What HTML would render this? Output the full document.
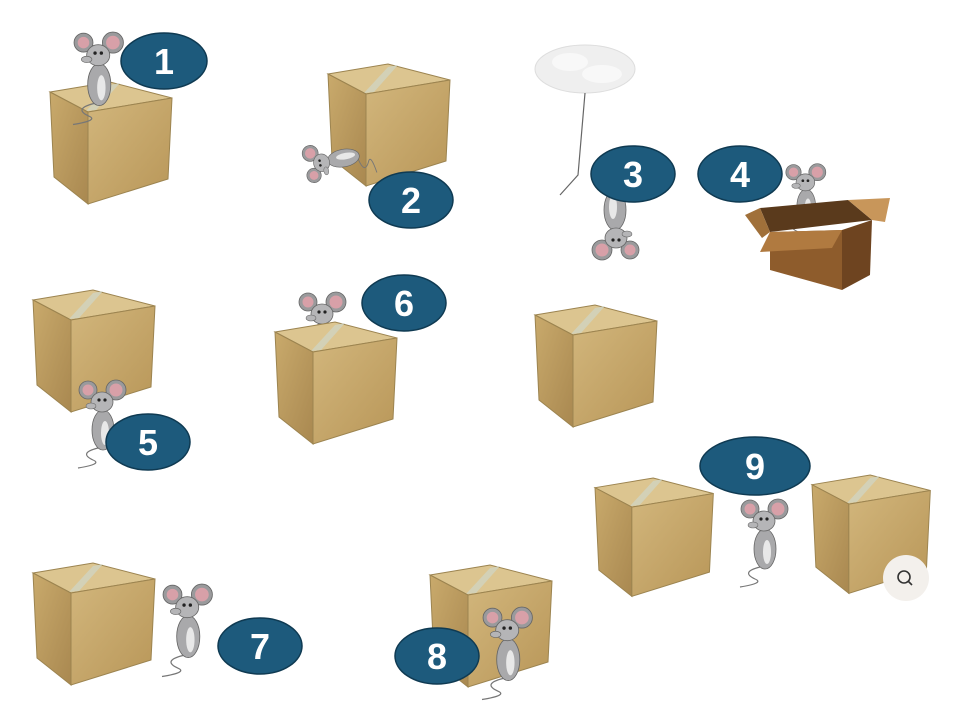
<!DOCTYPE html>
<html><head><meta charset="utf-8"><style>
html,body{margin:0;padding:0;background:#fff;width:960px;height:720px;overflow:hidden}
svg{display:block}
text{font-family:"Liberation Sans",sans-serif;font-weight:bold;fill:#fff}
</style></head><body>
<svg width="960" height="720" viewBox="0 0 960 720">
<defs>
<linearGradient id="rf" x1="0" y1="0" x2="1" y2="1"><stop offset="0" stop-color="#d2b67c"/><stop offset="1" stop-color="#b89658"/></linearGradient>
<linearGradient id="lf" x1="0" y1="0" x2="1" y2="1"><stop offset="0" stop-color="#c9aa6c"/><stop offset="1" stop-color="#a98850"/></linearGradient>
<g id="box">
<polygon points="0,10 60,0 122,16 38,30" fill="#dcc590" stroke="#9c8450" stroke-width="1"/>
<polygon points="60,3 70,1 46,28 36,29" fill="#cfd6c8" opacity="0.7"/>
<polygon points="0,10 38,30 38,122 4,95" fill="url(#lf)" stroke="#9c8450" stroke-width="1"/>
<polygon points="38,30 122,16 118,97 38,122" fill="url(#rf)" stroke="#9c8450" stroke-width="1"/>
</g>
<g id="mouse">
<path d="M20,70 q-20,5 -5,12 q10,4 -15,8" stroke="#777" fill="none" stroke-width="1.2"/>
<ellipse cx="25" cy="52" rx="11" ry="20" fill="#a9a9ab" stroke="#666" stroke-width="0.8"/>
<ellipse cx="27" cy="55" rx="4" ry="12" fill="#e8e8e8"/>
<circle cx="10" cy="12" r="9" fill="#9a9a9c" stroke="#666" stroke-width="0.8"/>
<circle cx="10" cy="12" r="5.5" fill="#d8a0a8"/>
<circle cx="38" cy="12" r="10" fill="#9a9a9c" stroke="#666" stroke-width="0.8"/>
<circle cx="38" cy="12" r="6.5" fill="#d8a0a8"/>
<ellipse cx="24" cy="24" rx="11" ry="10" fill="#b5b5b7" stroke="#666" stroke-width="0.8"/>
<ellipse cx="13" cy="28" rx="5" ry="3" fill="#b5b5b7" stroke="#666" stroke-width="0.6"/>
<circle cx="21" cy="22" r="1.6" fill="#222"/><circle cx="27" cy="22" r="1.6" fill="#222"/>
</g>
</defs>

<!-- box 1 -->
<use href="#box" x="50" y="82"/>
<use href="#mouse" transform="translate(73,30) scale(1.05)"/>
<!-- box 2 -->
<use href="#box" x="328" y="64"/>
<use href="#mouse" transform="translate(306,185) rotate(-100) scale(0.8)"/>
<!-- cloud -->
<ellipse cx="585" cy="69" rx="50" ry="24" fill="#efefef" stroke="#ddd"/>
<ellipse cx="570" cy="62" rx="18" ry="9" fill="#f8f8f8"/><ellipse cx="602" cy="74" rx="20" ry="9" fill="#f8f8f8"/>
<path d="M585,93 L578,175 L560,195" stroke="#666" fill="none" stroke-width="1.2"/>
<use href="#mouse" transform="translate(640,262) rotate(180) scale(1)"/>
<!-- open box 4 -->
<use href="#mouse" transform="translate(785,162) scale(0.85)"/>
<polygon points="760,208 848,200 872,220 770,232" fill="#5a3a1c"/>
<polygon points="760,208 745,215 762,238 770,232" fill="#a0703a"/>
<polygon points="848,200 890,198 885,222 872,220" fill="#c8965a"/>
<polygon points="770,232 842,230 842,290 770,270" fill="#8e5c2c"/>
<polygon points="842,230 872,220 870,275 842,290" fill="#6e4420"/>
<polygon points="770,232 842,230 832,248 760,252" fill="#b07a40"/>
<!-- box 5 -->
<use href="#box" x="33" y="290"/>
<use href="#mouse" transform="translate(78,378) scale(1)"/>
<!-- box 6 -->
<use href="#mouse" transform="translate(298,290) scale(1)"/>
<use href="#box" x="275" y="322"/>
<!-- unlabeled box -->
<use href="#box" x="535" y="305"/>
<!-- panel 9 -->
<use href="#box" transform="translate(595,478) scale(0.97)"/>
<use href="#box" transform="translate(812,475) scale(0.97)"/>
<use href="#mouse" transform="translate(740,497) scale(1)"/>
<circle cx="906" cy="578" r="23" fill="#f3f0ec"/>
<circle cx="904" cy="577" r="6" fill="none" stroke="#333" stroke-width="1.6"/>
<line x1="908" y1="581" x2="912" y2="585" stroke="#333" stroke-width="1.6"/>
<!-- box 7 -->
<use href="#box" x="33" y="563"/>
<use href="#mouse" transform="translate(162,582) scale(1.05)"/>
<!-- box 8 -->
<use href="#box" x="430" y="565"/>
<use href="#mouse" transform="translate(482,605) scale(1.05)"/>

<!-- labels -->
<g fill="#1d5a7c" stroke="#0f3a52" stroke-width="1.5">
<ellipse cx="164" cy="61" rx="43" ry="28"/>
<ellipse cx="411" cy="200" rx="42" ry="28"/>
<ellipse cx="633" cy="174" rx="42" ry="28"/>
<ellipse cx="740" cy="174" rx="42" ry="28"/>
<ellipse cx="148" cy="442" rx="42" ry="28"/>
<ellipse cx="404" cy="303" rx="42" ry="28"/>
<ellipse cx="260" cy="646" rx="42" ry="28"/>
<ellipse cx="437" cy="656" rx="42" ry="28"/>
<ellipse cx="755" cy="466" rx="55" ry="29"/>
</g>
<g font-size="36" text-anchor="middle">
<text x="164" y="74">1</text>
<text x="411" y="213">2</text>
<text x="633" y="187">3</text>
<text x="740" y="187">4</text>
<text x="148" y="455">5</text>
<text x="404" y="316">6</text>
<text x="260" y="659">7</text>
<text x="437" y="669">8</text>
<text x="755" y="479">9</text>
</g>
</svg>
</body></html>
